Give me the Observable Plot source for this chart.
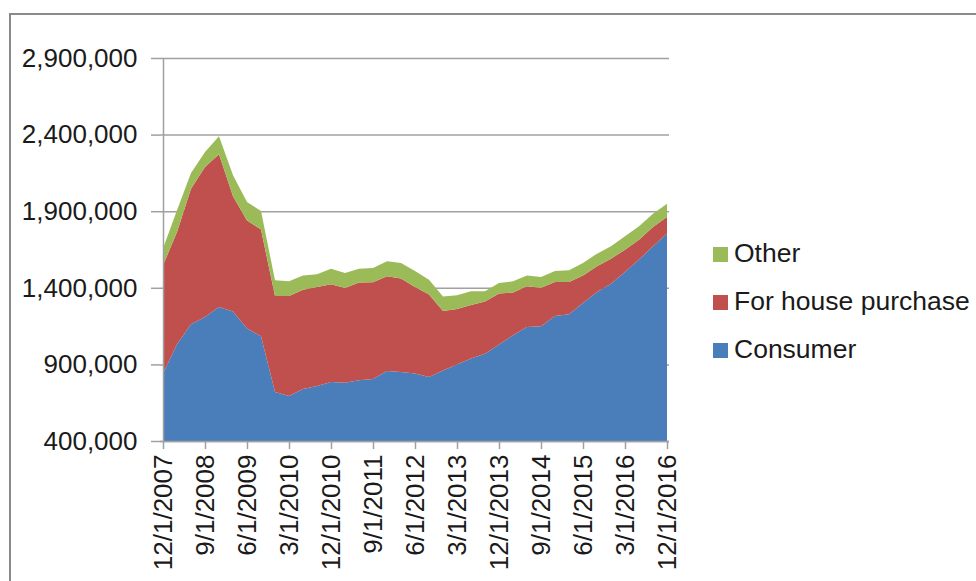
<!DOCTYPE html>
<html>
<head>
<meta charset="utf-8">
<script src="https://cdn.jsdelivr.net/npm/d3@7"></script>
<script src="https://cdn.jsdelivr.net/npm/@observablehq/plot@0.6"></script>
<style>
  html, body { margin: 0; padding: 0; background: #fff; }
  #wrap { position: relative; width: 976px; height: 581px; overflow: hidden; font-family: "Liberation Sans", Arial, sans-serif; }
  #frame { position: absolute; left: 9px; top: 13px; width: 2000px; height: 2000px; border-left: 2px solid #8a8a8a; border-top: 2px solid #8a8a8a; }
  #chart { position: absolute; left: 0; top: 0; }
  #legend { position: absolute; left: 713px; top: 240px; }
  .item { height: 48px; line-height: 26px; font-size: 26.5px; color: #1a1a1a; white-space: nowrap; }
  .sw { display: inline-block; width: 15px; height: 15px; margin-right: 6px; vertical-align: baseline; }
</style>
</head>
<body>
<div id="wrap">
  <div id="chart"></div>
  <div id="frame"></div>
  <div id="legend"></div>
</div>
<script>
const dates = ["12/1/2007","3/1/2008","6/1/2008","9/1/2008","12/1/2008","3/1/2009","6/1/2009","9/1/2009","12/1/2009","3/1/2010","6/1/2010","9/1/2010","12/1/2010","3/1/2011","6/1/2011","9/1/2011","12/1/2011","3/1/2012","6/1/2012","9/1/2012","12/1/2012","3/1/2013","6/1/2013","9/1/2013","12/1/2013","3/1/2014","6/1/2014","9/1/2014","12/1/2014","3/1/2015","6/1/2015","9/1/2015","12/1/2015","3/1/2016","6/1/2016","9/1/2016","12/1/2016"];

const consumer = [840000,1031000,1162000,1209000,1275000,1246000,1134000,1083000,720000,694000,739000,759000,785000,781000,796000,805000,857000,850000,840000,818000,861000,900000,938000,970000,1030000,1090000,1144000,1149000,1216000,1227000,1301000,1373000,1427000,1503000,1584000,1671000,1754000];

const housePurchase = [707000,733000,885000,979000,996000,751000,706000,697000,626000,652000,649000,646000,638000,618000,638000,631000,618000,610000,565000,539000,388000,362000,350000,340000,332000,279000,266000,252000,222000,211000,180000,167000,163000,146000,130000,126000,108000];

const other = [109000,142000,102000,98000,118000,137000,120000,121000,103000,96000,93000,83000,102000,98000,91000,93000,98000,102000,105000,96000,95000,89000,89000,67000,69000,73000,71000,69000,72000,76000,81000,83000,81000,87000,87000,87000,87000];

const seriesNames = ["Consumer", "For house purchase", "Other"];
const seriesColors = ["#4a7ebb", "#c0504d", "#9bbb59"];
const legendOrder = ["Other", "For house purchase", "Consumer"];

const xTickLabels = ["12/1/2007","9/1/2008","6/1/2009","3/1/2010","12/1/2010","9/1/2011","6/1/2012","3/1/2013","12/1/2013","9/1/2014","6/1/2015","3/1/2016","12/1/2016"];
const yTicks = [400000, 900000, 1400000, 1900000, 2400000, 2900000];

const seriesValues = [consumer, housePurchase, other];
const data = [];
seriesNames.forEach((name, s) => {
  dates.forEach((d, i) => data.push({date: d, series: name, value: seriesValues[s][i]}));
});

const chart = Plot.plot({
  width: 976,
  height: 581,
  marginLeft: 160,
  marginRight: 307,
  marginTop: 58,
  marginBottom: 140,
  style: {background: "transparent", fontFamily: "'Liberation Sans', Arial, sans-serif", fontSize: "26px", color: "#1a1a1a"},
  x: {type: "point", domain: dates, padding: 0},
  y: {domain: [400000, 2900000]},
  color: {domain: seriesNames, range: seriesColors},
  marks: [
    Plot.ruleY(yTicks, {stroke: "#a0a0a0", strokeWidth: 1.5}),
    Plot.areaY(data, {x: "date", y: "value", fill: "series", order: seriesNames, clip: true}),
    Plot.ruleX([dates[0]], {stroke: "#a0a0a0", strokeWidth: 1.5}),
    Plot.ruleY([400000], {stroke: "#a0a0a0", strokeWidth: 1.5}),
    Plot.axisY({ticks: yTicks, tickFormat: d3.format(","), tickSize: 9, tickPadding: 14, fontSize: 26, stroke: "#a0a0a0", fill: "#1a1a1a", strokeWidth: 1.5, label: null}),
    Plot.axisX({ticks: xTickLabels, tickSize: 8, tickPadding: 5, tickRotate: -90, fontSize: 26, stroke: "#a0a0a0", fill: "#1a1a1a", strokeWidth: 1.5, label: null})
  ]
});
document.getElementById("chart").appendChild(chart);

const legend = document.getElementById("legend");
legendOrder.forEach(name => {
  const row = document.createElement("div");
  row.className = "item";
  const sw = document.createElement("span");
  sw.className = "sw";
  sw.style.background = seriesColors[seriesNames.indexOf(name)];
  row.appendChild(sw);
  row.appendChild(document.createTextNode(name));
  legend.appendChild(row);
});
</script>
</body>
</html>
